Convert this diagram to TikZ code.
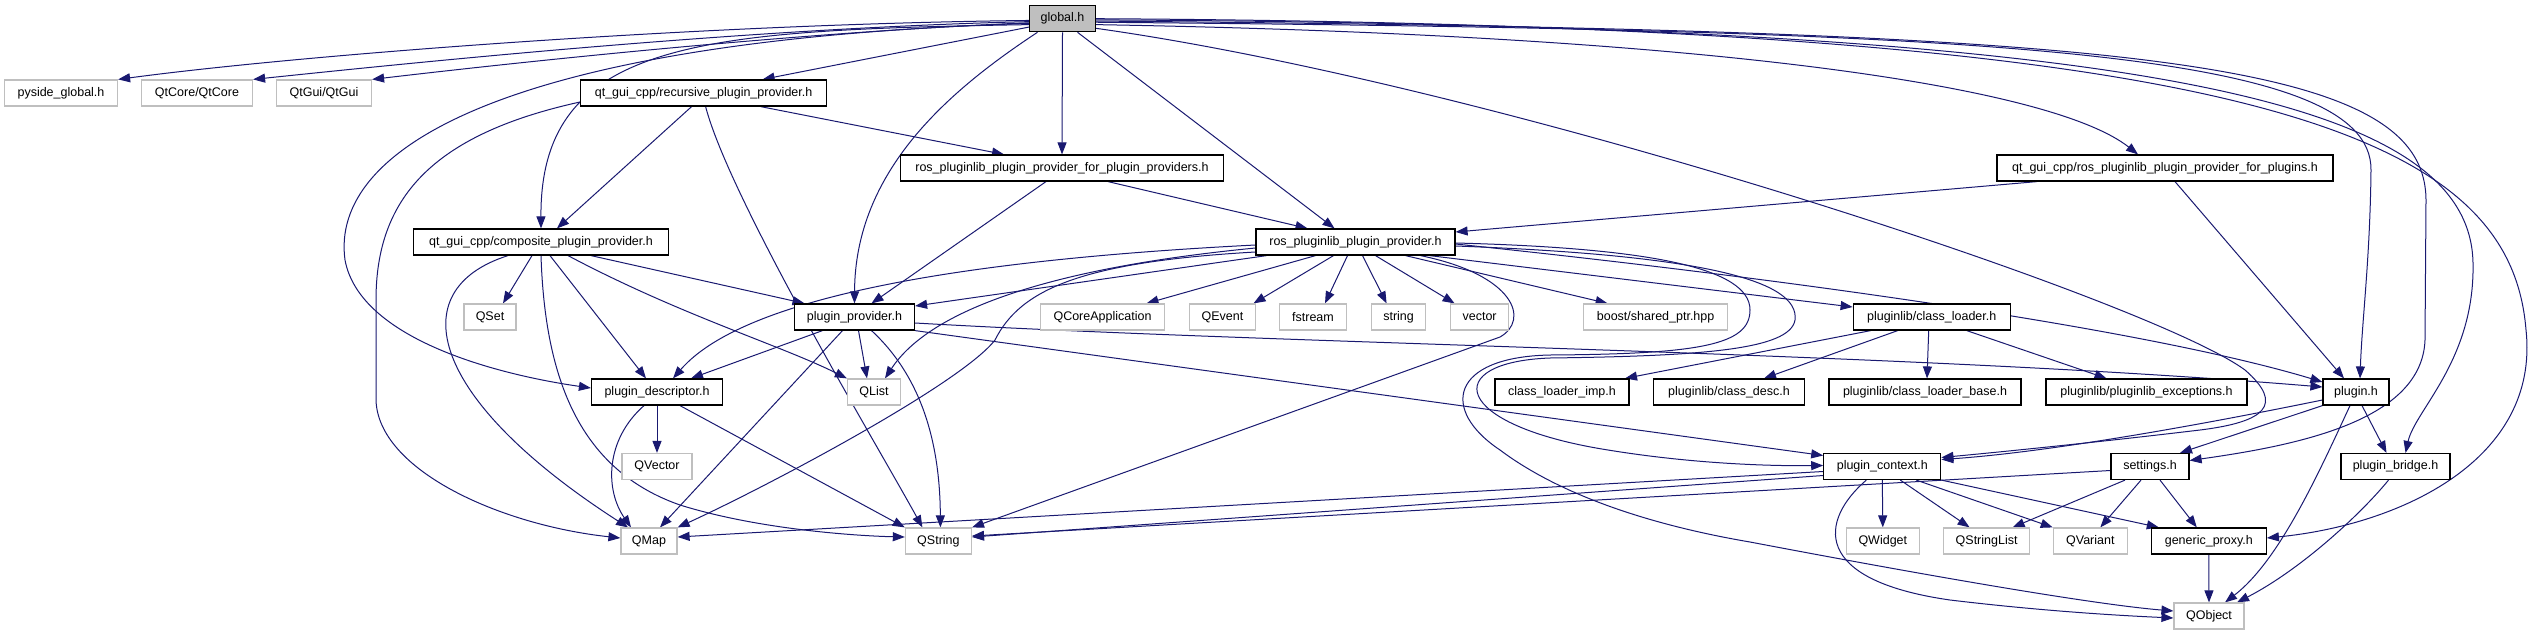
\documentclass[tikz,border=0pt]{standalone}
\usepackage{fontspec}
\setmainfont{Liberation Sans}
\usetikzlibrary{arrows.meta}
\definecolor{edgec}{HTML}{191970}
\definecolor{extc}{HTML}{BFBFBF}
\pgfdeclarelayer{bg}
\pgfsetlayers{bg,main}
\begin{document}
\begin{tikzpicture}[x=1pt,y=-1pt,
 box/.style={rectangle, draw=black, fill=white, line width=1.2pt, minimum height=26pt, inner sep=0pt, font=\fontsize{12.5}{14}\selectfont},
 ext/.style={box, draw=extc},
 root/.style={box, fill=extc},
 edge/.style={draw=edgec, line width=1pt, -{Triangle[length=12pt,width=9pt]}}]
\useasboundingbox (0,0) rectangle (2533,635);
\node[root, minimum width=66pt] (global) at (1062.5,18.7) {global.h};
\node[ext, minimum width=113pt] (pyside) at (61,93) {pyside\_global.h};
\node[ext, minimum width=111pt] (qtcore) at (197,93) {QtCore/QtCore};
\node[ext, minimum width=95pt] (qtgui) at (324,93) {QtGui/QtGui};
\node[box, minimum width=246pt] (recursive) at (703.6,93) {qt\_gui\_cpp/recursive\_plugin\_provider.h};
\node[box, minimum width=323pt] (rppp) at (1062,168) {ros\_pluginlib\_plugin\_provider\_for\_plugin\_providers.h};
\node[box, minimum width=336pt] (rppfp) at (2165,168) {qt\_gui\_cpp/ros\_pluginlib\_plugin\_provider\_for\_plugins.h};
\node[box, minimum width=255pt] (composite) at (541,242) {qt\_gui\_cpp/composite\_plugin\_provider.h};
\node[box, minimum width=199pt] (rpp) at (1355.5,242) {ros\_pluginlib\_plugin\_provider.h};
\node[ext, minimum width=52pt] (qset) at (490,317) {QSet};
\node[box, minimum width=120pt] (pprov) at (854.5,317) {plugin\_provider.h};
\node[ext, minimum width=124pt] (qcoreapp) at (1102.5,317) {QCoreApplication};
\node[ext, minimum width=66pt] (qevent) at (1222.5,317) {QEvent};
\node[ext, minimum width=67pt] (fstream) at (1313,317) {fstream};
\node[ext, minimum width=54pt] (string) at (1398.6,317) {string};
\node[ext, minimum width=58pt] (vector) at (1479.6,317) {vector};
\node[ext, minimum width=144pt] (boost) at (1655.6,317) {boost/shared\_ptr.hpp};
\node[box, minimum width=157pt] (cloader) at (1931.7,317) {pluginlib/class\_loader.h};
\node[box, minimum width=131pt] (pdesc) at (657,392) {plugin\_descriptor.h};
\node[ext, minimum width=53pt] (qlist) at (874,392) {QList};
\node[box, minimum width=134pt] (climp) at (1562,392) {class\_loader\_imp.h};
\node[box, minimum width=151pt] (cdesc) at (1729,392) {pluginlib/class\_desc.h};
\node[box, minimum width=192pt] (cbase) at (1925,392) {pluginlib/class\_loader\_base.h};
\node[box, minimum width=201pt] (pexc) at (2146.5,392) {pluginlib/pluginlib\_exceptions.h};
\node[box, minimum width=66pt] (pluginh) at (2356,392) {plugin.h};
\node[ext, minimum width=70pt] (qvector) at (657,466.5) {QVector};
\node[box, minimum width=117pt] (pctx) at (1882.3,466.5) {plugin\_context.h};
\node[box, minimum width=78pt] (settings) at (2150,466.5) {settings.h};
\node[box, minimum width=109pt] (pbridge) at (2395.5,466.5) {plugin\_bridge.h};
\node[ext, minimum width=56pt] (qmap) at (649,541) {QMap};
\node[ext, minimum width=66pt] (qstring) at (938.4,541) {QString};
\node[ext, minimum width=73pt] (qwidget) at (1882.8,541) {QWidget};
\node[ext, minimum width=86pt] (qstrlist) at (1986.6,541) {QStringList};
\node[ext, minimum width=74pt] (qvariant) at (2090.3,541) {QVariant};
\node[box, minimum width=115pt] (gproxy) at (2208.8,541) {generic\_proxy.h};
\node[ext, minimum width=70pt] (qobject) at (2209,616) {QObject};
\begin{pgfonlayer}{bg}
% global.h
\draw[edge] (global.183) .. controls (700,24) and (300,55) .. (pyside.north east);
\draw[edge] (global.185) .. controls (750,28) and (420,62) .. (qtcore.north east);
\draw[edge] (global.187) .. controls (800,32) and (520,62) .. (qtgui.north east);
\draw[edge] (global.194) -- ([xshift=59pt]recursive.north);
\draw[edge] (global.190) .. controls (700,30) and (540,40) .. (composite.north);
\draw[edge] (global.188) .. controls (500,40) and (330,150) .. (345,260) .. controls (360,340) and (500,375) .. ([yshift=4pt]pdesc.west);
\draw[edge] ([xshift=-25pt]global.south) .. controls (950,90) and (855,170) .. (pprov.north);
\draw[edge] (global.south) -- (rppp.north);
\draw[edge] ([xshift=15pt]global.south) -- ([xshift=-21pt]rpp.north);
\draw[edge] (global.350) .. controls (1700,35) and (2050,85) .. ([xshift=-27pt]rppfp.north);
\draw[edge] (global.354) .. controls (2000,30) and (2372,50) .. (2371,170) .. controls (2370,260) and (2362,320) .. ([xshift=4pt]pluginh.north);
\draw[edge] (global.344) .. controls (1500,85) and (2150,300) .. (2245,370) .. controls (2285,405) and (2265,422) .. (2200,430) .. controls (2100,442) and (2000,452) .. ([yshift=9pt]pctx.east);
\draw[edge] (global.356) .. controls (2150,30) and (2425,60) .. (2426,200) -- (2425,340) .. controls (2422,420) and (2300,445) .. ([yshift=6pt]settings.east);
\draw[edge] (global.358) .. controls (2150,25) and (2470,100) .. (2473,263) .. controls (2475,360) and (2415,410) .. ([xshift=10pt]pbridge.north);
\draw[edge] (global.0) .. controls (2250,25) and (2510,130) .. (2526,330) .. controls (2540,460) and (2400,525) .. ([yshift=3pt]gproxy.east);
% recursive
\draw[edge] ([xshift=-12pt]recursive.south) -- ([xshift=16pt]composite.north);
\draw[edge] ([xshift=57pt]recursive.south) -- ([xshift=-58pt]rppp.north);
\draw[edge] ([xshift=2pt]recursive.south) .. controls (730,200) and (880,450) .. ([xshift=-16pt]qstring.north);
\draw[edge] ([yshift=-9pt]recursive.west) .. controls (430,135) and (376,200) .. (376,300) -- (376,400) .. controls (378,470) and (500,525) .. ([yshift=3pt]qmap.west);
% rppp, rppfp
\draw[edge] ([xshift=-16pt]rppp.south) -- ([xshift=17pt]pprov.north);
\draw[edge] ([xshift=46pt]rppp.south) -- ([xshift=-48pt]rpp.north);
\draw[edge] ([xshift=-128pt]rppfp.south) -- ([yshift=10pt]rpp.east);
\draw[edge] ([xshift=10pt]rppfp.south) -- ([xshift=-12pt]pluginh.north);
% composite
\draw[edge] ([xshift=-9pt]composite.south) -- ([xshift=13pt]qset.north);
\draw[edge] ([xshift=50pt]composite.south) -- ([xshift=-50pt]pprov.north);
\draw[edge] ([xshift=9pt]composite.south) -- ([xshift=-11pt]pdesc.north);
\draw[edge] ([xshift=27pt]composite.south) .. controls (680,315) and (780,345) .. (qlist.north west);
\draw[edge] ([xshift=-33pt]composite.south) .. controls (400,290) and (430,400) .. ([xshift=-21pt]qmap.north);
\draw[edge] (composite.south) .. controls (545,380) and (580,470) .. (680,505) .. controls (760,530) and (860,536) .. ([yshift=4pt]qstring.west);
% plugin_provider
\draw[edge] ([xshift=-32pt]pprov.south) -- ([xshift=34pt]pdesc.north);
\draw[edge] ([xshift=4pt]pprov.south) -- ([xshift=-7pt]qlist.north);
\draw[edge] ([xshift=-12pt]pprov.south) -- ([xshift=11pt]qmap.north);
\draw[edge] ([xshift=17pt]pprov.south) .. controls (925,380) and (940,450) .. ([xshift=2pt]qstring.north);
\draw[edge] ([yshift=-6pt]pprov.east) .. controls (1300,345) and (1900,352) .. ([yshift=5pt]pluginh.west);
\draw[edge] (pprov.south east) -- ([yshift=11pt]pctx.west);
% plugin_descriptor
\draw[edge] (pdesc.south) -- (qvector.north);
\draw[edge] ([xshift=-13pt]pdesc.south) .. controls (605,440) and (605,490) .. ([xshift=-18pt]qmap.north);
\draw[edge] ([xshift=23pt]pdesc.south) -- (qstring.north west);
% ros_pluginlib_plugin_provider
\draw[edge] ([xshift=-89pt]rpp.south) -- ([yshift=11pt]pprov.east);
\draw[edge] ([yshift=-3pt]rpp.west) .. controls (1000,258) and (750,290) .. ([xshift=16pt]pdesc.north);
\draw[edge] ([yshift=-6pt]rpp.west) .. controls (1050,268) and (930,310) .. ([xshift=11pt]qlist.north);
\draw[edge] ([yshift=-10pt]rpp.west) .. controls (1080,262) and (1020,290) .. (995,340) .. controls (960,385) and (760,490) .. (qmap.north east);
\draw[edge] ([xshift=-40pt]rpp.south) -- ([xshift=44pt]qcoreapp.north);
\draw[edge] ([xshift=-22pt]rpp.south) -- ([xshift=31pt]qevent.north);
\draw[edge] ([xshift=-8pt]rpp.south) -- ([xshift=12pt]fstream.north);
\draw[edge] ([xshift=7pt]rpp.south) -- ([xshift=-12pt]string.north);
\draw[edge] ([xshift=20pt]rpp.south) -- ([xshift=-25pt]vector.north);
\draw[edge] ([xshift=50pt]rpp.south) -- ([xshift=-48pt]boost.north);
\draw[edge] ([xshift=74pt]rpp.south) -- ([yshift=10pt]cloader.west);
\draw[edge] ([xshift=65pt]rpp.south) .. controls (1515,275) and (1530,320) .. (1500,337) -- (qstring.north east);
\draw[edge] ([yshift=-2pt]rpp.east) .. controls (1800,280) and (2150,330) .. ([yshift=10pt]pluginh.west);
\draw[edge] ([yshift=-4pt]rpp.east) .. controls (1700,255) and (1800,280) .. (1795,320) .. controls (1790,350) and (1700,356) .. (1550,358) .. controls (1440,362) and (1450,425) .. (1608,450) .. controls (1700,465) and (1780,466) .. ([yshift=1pt]pctx.west);
\draw[edge] ([yshift=-1pt]rpp.east) .. controls (1650,248) and (1750,268) .. (1750,310) .. controls (1750,345) and (1700,354) .. (1550,355) .. controls (1450,357) and (1440,410) .. (1500,450) .. controls (1560,495) and (1650,525) .. (1750,542) .. controls (1950,580) and (2100,605) .. ([yshift=5pt]qobject.west);
% class_loader
\draw[edge] ([xshift=-61pt]cloader.south) -- ([xshift=63pt]climp.north);
\draw[edge] ([xshift=-34pt]cloader.south) -- ([xshift=35pt]cdesc.north);
\draw[edge] ([xshift=-3pt]cloader.south) -- ([xshift=2pt]cbase.north);
\draw[edge] ([xshift=35pt]cloader.south) -- ([xshift=-40pt]pexc.north);
% plugin.h
\draw[edge] ([yshift=-8pt]pluginh.west) .. controls (2200,425) and (2050,452) .. ([yshift=7pt]pctx.east);
\draw[edge] (pluginh.south west) -- ([xshift=30pt]settings.north);
\draw[edge] ([xshift=6pt]pluginh.south) -- ([xshift=-9pt]pbridge.north);
\draw[edge] ([xshift=-6pt]pluginh.south) .. controls (2320,470) and (2280,560) .. ([xshift=16pt]qobject.north);
% plugin_context
\draw[edge] (pctx.south) -- (qwidget.north);
\draw[edge] ([xshift=18pt]pctx.south) -- ([xshift=-17pt]qstrlist.north);
\draw[edge] ([xshift=34pt]pctx.south) -- (qvariant.north west);
\draw[edge] (pctx.south east) -- ([xshift=-50pt]gproxy.north);
\draw[edge] ([xshift=-16pt]pctx.south) .. controls (1820,520) and (1810,580) .. (1950,600) .. controls (2050,612) and (2130,616) .. ([yshift=-2pt]qobject.west);
\draw[edge] ([yshift=-5pt]pctx.west) -- ([yshift=4pt]qmap.east);
\draw[edge] ([yshift=-9pt]pctx.west) -- ([yshift=4pt]qstring.east);
% settings
\draw[edge] ([yshift=-4pt]settings.west) -- ([yshift=5pt]qstring.east);
\draw[edge] ([xshift=-25pt]settings.south) -- ([xshift=26pt]qstrlist.north);
\draw[edge] ([xshift=-9pt]settings.south) -- ([xshift=10pt]qvariant.north);
\draw[edge] ([xshift=10pt]settings.south) -- ([xshift=-12pt]gproxy.north);
% generic_proxy, plugin_bridge
\draw[edge] (gproxy.south) -- (qobject.north);
\draw[edge] ([xshift=-7pt]pbridge.south) .. controls (2360,515) and (2300,570) .. ([xshift=28pt]qobject.north);
\end{pgfonlayer}
\end{tikzpicture}
\end{document}
